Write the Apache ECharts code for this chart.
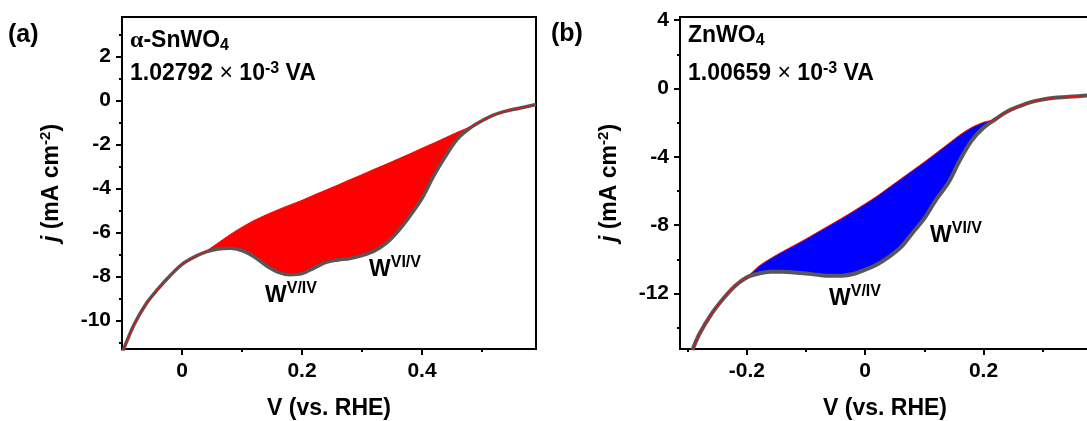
<!DOCTYPE html>
<html>
<head>
<meta charset="utf-8">
<script src="https://cdn.jsdelivr.net/npm/echarts@6/dist/echarts.min.js"></script>
<style>
  html, body { margin: 0; padding: 0; background: #ffffff; }
  #chart { width: 1087px; height: 421px; }
</style>
</head>
<body>
<div id="chart"></div>
<script>
// ---- alpha-SnWO4 : LSV current (grey) and background baseline (red) ----
const voltageA = [-0.10, -0.08, -0.06, -0.04, -0.02, 0.00, 0.02, 0.04, 0.06, 0.08,
                  0.10, 0.12, 0.14, 0.16, 0.18, 0.20, 0.22, 0.24, 0.26, 0.28,
                  0.30, 0.32, 0.34, 0.36, 0.38, 0.40, 0.42, 0.44, 0.46, 0.48,
                  0.50, 0.52, 0.54, 0.56, 0.59];
const currentA = [-11.5, -10.2, -9.25, -8.57, -7.97, -7.45, -7.12, -6.88, -6.75, -6.72,
                  -6.82, -7.10, -7.50, -7.80, -7.92, -7.87, -7.62, -7.36, -7.25, -7.18,
                  -7.05, -6.85, -6.50, -5.95, -5.25, -4.45, -3.40, -2.50, -1.72, -1.25,
                  -0.92, -0.65, -0.48, -0.36, -0.18];
const baselineA = [-11.5, -10.2, -9.25, -8.57, -7.97, -7.45, -7.12, -6.85, -6.48, -6.10,
                   -5.76, -5.46, -5.20, -4.97, -4.75, -4.54, -4.30, -4.07, -3.84, -3.60,
                   -3.37, -3.13, -2.90, -2.66, -2.42, -2.17, -1.93, -1.68, -1.43, -1.20,
                   -0.92, -0.65, -0.48, -0.36, -0.18];

// ---- ZnWO4 : LSV current (grey) and background baseline (red) ----
const voltageB = [-0.292, -0.28, -0.26, -0.24, -0.22, -0.20, -0.18, -0.16, -0.14, -0.12,
                  -0.10, -0.08, -0.06, -0.04, -0.02, 0.00, 0.02, 0.04, 0.06, 0.08,
                  0.10, 0.12, 0.14, 0.16, 0.18, 0.20, 0.22, 0.24, 0.26, 0.28,
                  0.30, 0.32, 0.34, 0.36, 0.38];
const currentB = [-15.3, -14.35, -13.2, -12.3, -11.55, -11.05, -10.82, -10.72, -10.72, -10.76,
                  -10.82, -10.90, -10.96, -10.95, -10.85, -10.60, -10.30, -9.85, -9.30, -8.45,
                  -7.60, -6.50, -5.55, -4.20, -3.05, -2.30, -1.80, -1.35, -1.05, -0.80,
                  -0.65, -0.55, -0.50, -0.45, -0.40];
const baselineB = [-15.3, -14.35, -13.2, -12.3, -11.55, -11.05, -10.40, -9.95, -9.55, -9.18,
                   -8.80, -8.40, -8.00, -7.60, -7.18, -6.75, -6.30, -5.80, -5.30, -4.80,
                   -4.30, -3.78, -3.25, -2.72, -2.28, -1.98, -1.80, -1.35, -1.05, -0.80,
                   -0.65, -0.55, -0.50, -0.45, -0.40];

// ---- axis ranges and tick values ----
const xRangeA = [-0.1, 0.59];
const xMajorA = [0, 0.2, 0.4];
const xMinorA = [0.1, 0.3, 0.5];
const yRangeA = [-11.3, 3.8];
const yMajorA = [-10, -8, -6, -4, -2, 0, 2];
const yMinorA = [-11, -9, -7, -5, -3, -1, 1, 3];

const xRangeB = [-0.313, 0.38];
const xMajorB = [-0.2, 0, 0.2];
const xMinorB = [-0.3, -0.1, 0.1, 0.3];
const yRangeB = [-15.24, 4.18];
const yMajorB = [-12, -8, -4, 0, 4];
const yMinorB = [-14, -10, -6, -2, 2];

const FONT = '"Liberation Sans", Arial, sans-serif';
const SERIF = '"Liberation Serif", "Times New Roman", serif';
const INK = '#000000';

const chart = echarts.init(document.getElementById('chart'), null, { renderer: 'canvas' });

function labelStyle(size) {
  return { color: INK, fontSize: size, fontWeight: 'bold', fontFamily: FONT };
}

function xAxes(grid, range, majors, minors) {
  return [
    {
      type: 'value', gridIndex: grid, min: range[0], max: range[1], position: 'bottom',
      axisLine: { show: true, onZero: false, lineStyle: { color: INK, width: 2 } },
      axisTick: { show: true, customValues: majors, length: 6, lineStyle: { color: INK, width: 2 } },
      axisLabel: Object.assign({ customValues: majors, margin: 12 }, labelStyle(21)),
      splitLine: { show: false },
      name: 'V (vs. RHE)', nameLocation: 'middle', nameGap: 48,
      nameTextStyle: labelStyle(23)
    },
    {
      type: 'value', gridIndex: grid, min: range[0], max: range[1], position: 'bottom',
      axisLine: { show: false, onZero: false },
      axisTick: { show: true, customValues: minors, length: 3, lineStyle: { color: INK, width: 2 } },
      axisLabel: { show: false },
      splitLine: { show: false }
    }
  ];
}

function yAxes(grid, range, majors, minors) {
  return [
    {
      type: 'value', gridIndex: grid, min: range[0], max: range[1], position: 'left',
      axisLine: { show: true, onZero: false, lineStyle: { color: INK, width: 2 } },
      axisTick: { show: true, customValues: majors, length: 6, lineStyle: { color: INK, width: 2 } },
      axisLabel: Object.assign({ customValues: majors, margin: 11 }, labelStyle(21)),
      splitLine: { show: false },
      name: '{i|j} (mA cm{s|-2})', nameLocation: 'middle', nameGap: 57,
      nameTextStyle: Object.assign({}, labelStyle(23), {
        rich: {
          i: { fontStyle: 'italic', fontSize: 23, fontWeight: 'bold', fontFamily: FONT, color: INK },
          s: { fontSize: 15, fontWeight: 'bold', fontFamily: FONT, color: INK, padding: [0, 0, 12, 0] }
        }
      })
    },
    {
      type: 'value', gridIndex: grid, min: range[0], max: range[1], position: 'left',
      axisLine: { show: false, onZero: false },
      axisTick: { show: true, customValues: minors, length: 3, lineStyle: { color: INK, width: 2 } },
      axisLabel: { show: false },
      splitLine: { show: false }
    }
  ];
}

const SMOOTH = 0.35;

// shaded redox area between the baseline and the measured curve,
// then the measured curve and the baseline drawn on top of it
function panelSeries(xi, yi, volts, curr, base, fillColor, curveWidth) {
  const measured = volts.map((v, i) => [v, curr[i]]);
  const background = volts.map((v, i) => [v, base[i]]);
  const common = { xAxisIndex: xi, yAxisIndex: yi, silent: true };

  const area = Object.assign({}, common, {
    type: 'custom',
    coordinateSystem: 'cartesian2d',
    data: [background[0]],
    renderItem: function (params, api) {
      // only the stretch where the baseline sits above the measured curve
      let first = -1, last = -1;
      for (let i = 0; i < volts.length; i++) {
        if (base[i] > curr[i]) {
          if (first < 0) first = i;
          last = i;
        }
      }
      if (first < 0) return null;
      const lo = Math.max(0, first - 1);
      const hi = Math.min(volts.length - 1, last + 1);
      const top = [], bottom = [];
      for (let i = lo; i <= hi; i++) {
        top.push(api.coord([volts[i], base[i]]));
        bottom.push(api.coord([volts[i], curr[i]]));
      }
      return {
        type: 'polygon',
        shape: { points: top.concat(bottom.reverse()) },
        style: { fill: fillColor, stroke: null }
      };
    }
  });

  return [
    area,
    Object.assign({}, common, {
      type: 'line', symbol: 'none', smooth: SMOOTH,
      data: measured,
      lineStyle: { color: '#575757', width: curveWidth }
    }),
    Object.assign({}, common, {
      type: 'line', symbol: 'none', smooth: SMOOTH,
      data: background,
      lineStyle: { color: '#ff0000', width: 1 }
    })
  ];
}

const supRich = {
  w: { fontSize: 23, fontWeight: 'bold', fontFamily: FONT, fill: INK },
  sup: { fontSize: 16, fontWeight: 'bold', fontFamily: FONT, fill: INK, padding: [0, 0, 14, 0] }
};

const noteRich = {
  g: { fontSize: 24, fontWeight: 'bold', fontFamily: SERIF, fill: INK },
  t: { fontSize: 23, fontWeight: 'bold', fontFamily: FONT, fill: INK },
  x: { fontSize: 23, fontWeight: 'normal', fontFamily: FONT, fill: INK },
  sub: { fontSize: 16, fontWeight: 'bold', fontFamily: FONT, fill: INK, padding: [10, 0, 0, 0] },
  sup: { fontSize: 16, fontWeight: 'bold', fontFamily: FONT, fill: INK, padding: [0, 0, 11, 0] }
};

const panelRich = {
  p: { fontSize: 25, fontWeight: 'bold', fontFamily: FONT, fill: INK }
};

function note(x, y, text, rich) {
  return {
    type: 'text', x: x, y: y, silent: true, z: 100,
    style: {
      text: text, rich: rich, fill: INK,
      fontSize: 23, fontWeight: 'bold', fontFamily: FONT,
      align: 'left', verticalAlign: 'middle',
      textAlign: 'left', textVerticalAlign: 'middle'
    }
  };
}

const gridBase = {
  top: 17, height: 332, show: true, borderColor: INK, borderWidth: 2,
  backgroundColor: 'transparent', containLabel: false, outerBoundsMode: 'none'
};

const option = {
  animation: false,
  backgroundColor: '#ffffff',
  grid: [
    Object.assign({ left: 122, width: 414 }, gridBase),
    Object.assign({ left: 680, width: 410 }, gridBase)
  ],
  xAxis: [].concat(xAxes(0, xRangeA, xMajorA, xMinorA), xAxes(1, xRangeB, xMajorB, xMinorB)),
  yAxis: [].concat(yAxes(0, yRangeA, yMajorA, yMinorA), yAxes(1, yRangeB, yMajorB, yMinorB)),
  series: [].concat(
    panelSeries(0, 0, voltageA, currentA, baselineA, '#ff0000', 3.5),
    panelSeries(2, 2, voltageB, currentB, baselineB, '#0000ff', 4)
  ),
  graphic: [
    note(8, 35, '{p|(a)}', panelRich),
    note(551, 34, '{p|(b)}', panelRich),
    note(130, 41, '{g|α}{t|-SnWO}{sub|4}', noteRich),
    note(130, 74, '{t|1.02792 }{x|×}{t| 10}{sup|-3}{t| VA}', noteRich),
    note(688, 36, '{t|ZnWO}{sub|4}', noteRich),
    note(688, 74, '{t|1.00659 }{x|×}{t| 10}{sup|-3}{t| VA}', noteRich),
    note(265, 296, '{w|W}{sup|V/IV}', supRich),
    note(369, 270, '{w|W}{sup|VI/V}', supRich),
    note(829, 299, '{w|W}{sup|V/IV}', supRich),
    note(930, 236, '{w|W}{sup|VI/V}', supRich)
  ]
};

chart.setOption(option);
</script>
</body>
</html>
